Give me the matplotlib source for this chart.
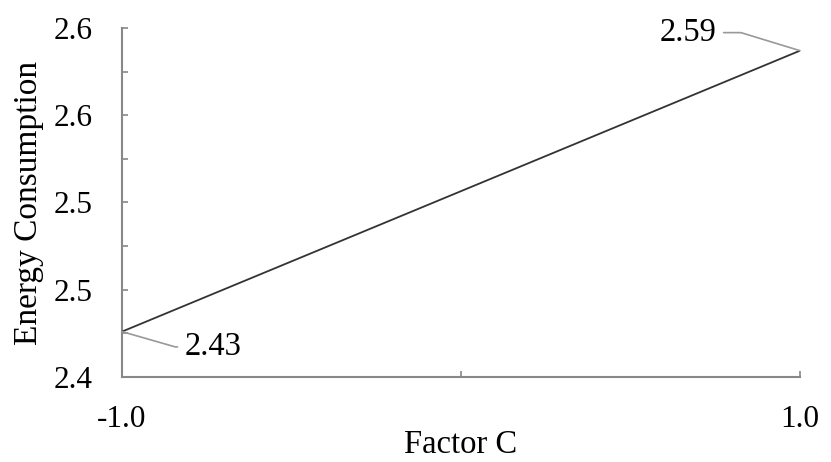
import matplotlib.pyplot as plt
import numpy as np

# Data
factor_c = [-1.0, 1.0]
energy = [2.426, 2.587]
point_labels = ['2.43', '2.59']

y_major = [2.40, 2.45, 2.50, 2.55, 2.60]
y_major_labels = ['2.4', '2.5', '2.5', '2.6', '2.6']
x_ticks = [-1.0, 0.0, 1.0]
x_tick_labels = ['-1.0', '', '1.0']

plt.rcParams['font.family'] = ['Liberation Serif', 'DejaVu Serif']

fig = plt.figure(figsize=(8.31, 4.62), dpi=100)
ax = fig.add_axes([0.1468, 0.184, 0.8159, 0.7554])

ax.plot(factor_c, energy, color='#333333', linewidth=1.3)

ax.set_xlim(-1.0, 1.0)
ax.set_ylim(2.40, 2.60)

ax.set_yticks(y_major)
ax.set_yticklabels(y_major_labels)
ax.set_yticks(np.array(y_major[:-1]) + 0.025, minor=True)
ax.set_xticks(x_ticks)
ax.set_xticklabels(x_tick_labels)

ax.tick_params(axis='y', which='both', direction='in', length=4, width=1.2,
               color='#888888', labelsize=22.5, pad=21)
ax.tick_params(axis='x', which='both', direction='in', length=4, width=1.2,
               color='#888888', labelsize=22.5, pad=20)

for side in ['top', 'right']:
    ax.spines[side].set_visible(False)
for side in ['left', 'bottom']:
    ax.spines[side].set_color('#888888')
    ax.spines[side].set_linewidth(1.5)
ax.spines['left'].set_zorder(0)

ax.set_xlabel('Factor C', fontsize=23.5, labelpad=-3)
ax.set_ylabel('Energy Consumption', fontsize=24, labelpad=7)

# Data labels with leader lines
ax.annotate(point_labels[0], xy=(factor_c[0], energy[0]), xytext=(45, -11),
            textcoords='offset points', ha='left', va='center', fontsize=23.5,
            arrowprops=dict(arrowstyle='-', color='#999999', lw=1.2,
                            relpos=(0, 0.5), shrinkA=3, shrinkB=0,
                            connectionstyle='angle,angleA=0,angleB=-16,rad=0'))
ax.annotate(point_labels[1], xy=(factor_c[1], energy[1]), xytext=(-60, 13),
            textcoords='offset points', ha='right', va='center', fontsize=23.5,
            annotation_clip=False,
            arrowprops=dict(arrowstyle='-', color='#999999', lw=1.2,
                            relpos=(1, 0.5), shrinkA=3, shrinkB=0,
                            connectionstyle='angle,angleA=0,angleB=163,rad=0'))

fig.savefig('out.png', dpi=100)
